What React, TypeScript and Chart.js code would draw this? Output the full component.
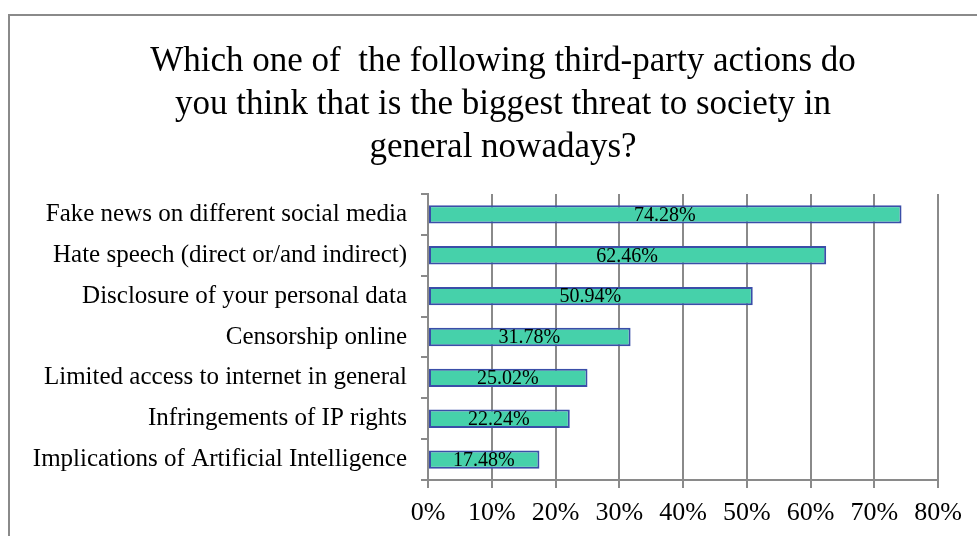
import React, { useEffect, useRef } from "react";
import { Chart, registerables } from "chart.js";

Chart.register(...registerables);

const categories = [
  "Fake news on different social media",
  "Hate speech (direct or/and indirect)",
  "Disclosure of your personal data",
  "Censorship online",
  "Limited access to internet in general",
  "Infringements of IP rights",
  "Implications of Artificial Intelligence",
];
const values = [74.28, 62.46, 50.94, 31.78, 25.02, 22.24, 17.48];
const titleLines = [
  "Which one of  the following third-party actions do",
  "you think that is the biggest threat to society in",
  "general nowadays?",
];

const FONT = "'Liberation Serif', 'Times New Roman', serif";
const GRID = "#8a8a8a";

const framePlugin = {
  id: "framePlugin",
  beforeDraw(chart: any) {
    const ctx = chart.ctx;
    ctx.save();
    ctx.strokeStyle = GRID;
    ctx.lineWidth = 2;
    ctx.beginPath();
    ctx.moveTo(9, 536);
    ctx.lineTo(9, 15);
    ctx.lineTo(977, 15);
    ctx.stroke();
    ctx.fillStyle = "#000";
    ctx.font = `35px ${FONT}`;
    ctx.textAlign = "center";
    ctx.textBaseline = "middle";
    titleLines.forEach((t, i) => ctx.fillText(t, 503, 62 + i * 43));
    ctx.restore();
  },
  afterDatasetsDraw(chart: any) {
    const ctx = chart.ctx;
    const meta = chart.getDatasetMeta(0);
    const xs = chart.scales.x;
    ctx.save();
    ctx.fillStyle = "#000";
    ctx.font = `20px ${FONT}`;
    ctx.textAlign = "center";
    ctx.textBaseline = "middle";
    meta.data.forEach((bar: any, i: number) => {
      const x0 = xs.getPixelForValue(0);
      const x1 = xs.getPixelForValue(values[i]);
      ctx.fillText(values[i].toFixed(2) + "%", (x0 + x1) / 2, bar.y + 1);
    });
    ctx.restore();
  },
};

export default function App() {
  const ref = useRef<HTMLCanvasElement>(null);
  useEffect(() => {
    const chart = new Chart(ref.current!, {
      type: "bar",
      data: {
        labels: categories,
        datasets: [
          {
            data: values,
            backgroundColor: "#46d1aa",
            borderColor: "#3a4ea8",
            borderWidth: 2,
            borderSkipped: false,
            barPercentage: 0.45,
            categoryPercentage: 1,
          },
        ],
      },
      options: {
        indexAxis: "y",
        responsive: false,
        animation: false,
        layout: { padding: { top: 194, left: 0, right: 39, bottom: 0 } },
        plugins: { legend: { display: false }, tooltip: { enabled: false }, title: { display: false } },
        scales: {
          x: {
            min: 0,
            max: 80,
            ticks: {
              stepSize: 10,
              color: "#000",
              font: { family: FONT, size: 26 },
              padding: 10,
              callback: (v: any) => v + "%",
            },
            grid: { color: GRID, lineWidth: 2, tickLength: 8 },
            border: { color: GRID, width: 2 },
            afterFit: (s: any) => {
              s.height = 56;
            },
          },
          y: {
            ticks: { color: "#000", font: { family: FONT, size: 25 }, padding: 14 },
            grid: { color: GRID, lineWidth: 2, tickLength: 7, drawOnChartArea: false, offset: true },
            border: { color: GRID, width: 2 },
            afterFit: (s: any) => {
              s.width = 428;
            },
          },
        },
      },
      plugins: [framePlugin],
    });
    return () => chart.destroy();
  }, []);
  return (
    <div style={{ position: "fixed", left: 0, top: 0, width: 977, height: 536, background: "#fff" }}>
      <canvas ref={ref} width={977} height={536} />
    </div>
  );
}
